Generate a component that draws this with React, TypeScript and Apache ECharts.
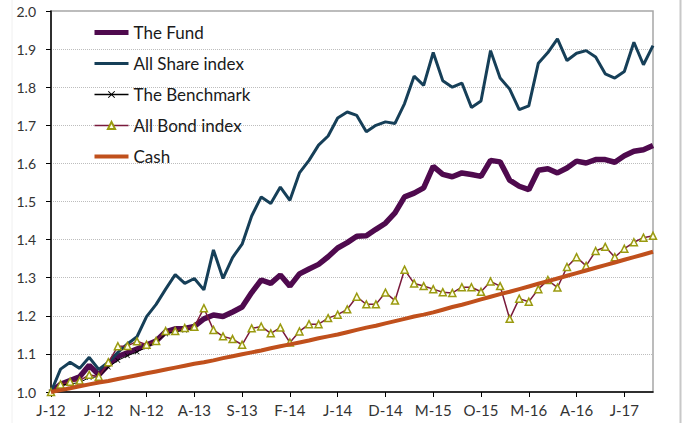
import React, { useEffect, useRef } from "react";
import * as echarts from "echarts";

const categories = [
  "Jan-12","Feb-12","Mar-12","Apr-12","May-12","Jun-12","Jul-12","Aug-12","Sep-12","Oct-12","Nov-12","Dec-12",
  "Jan-13","Feb-13","Mar-13","Apr-13","May-13","Jun-13","Jul-13","Aug-13","Sep-13","Oct-13","Nov-13","Dec-13",
  "Jan-14","Feb-14","Mar-14","Apr-14","May-14","Jun-14","Jul-14","Aug-14","Sep-14","Oct-14","Nov-14","Dec-14",
  "Jan-15","Feb-15","Mar-15","Apr-15","May-15","Jun-15","Jul-15","Aug-15","Sep-15","Oct-15","Nov-15","Dec-15",
  "Jan-16","Feb-16","Mar-16","Apr-16","May-16","Jun-16","Jul-16","Aug-16","Sep-16","Oct-16","Nov-16","Dec-16",
  "Jan-17","Feb-17","Mar-17","Apr-17",
];

const fund = [
  1.0, 1.02, 1.03, 1.04, 1.07, 1.045, 1.072, 1.093, 1.103, 1.113, 1.123, 1.134,
  1.158, 1.166, 1.167, 1.172, 1.192, 1.202, 1.198, 1.21, 1.223, 1.261, 1.294, 1.285,
  1.307, 1.278, 1.31, 1.323, 1.335, 1.355, 1.378, 1.392, 1.409, 1.41, 1.427, 1.443,
  1.47, 1.512, 1.522, 1.536, 1.592, 1.571, 1.565, 1.575, 1.571, 1.566, 1.608, 1.604,
  1.556, 1.54, 1.531, 1.582, 1.586, 1.575, 1.588, 1.606, 1.601, 1.61, 1.61, 1.603,
  1.62, 1.632, 1.636, 1.647,
];

const allShare = [
  1.0, 1.06, 1.078, 1.062, 1.091, 1.059, 1.078, 1.104, 1.126, 1.145, 1.198, 1.23,
  1.27, 1.308, 1.285, 1.298, 1.268, 1.373, 1.298, 1.353, 1.388, 1.462, 1.512, 1.495,
  1.538, 1.503, 1.575, 1.608, 1.648, 1.672, 1.719, 1.735, 1.726, 1.683, 1.7, 1.709,
  1.705, 1.757, 1.829, 1.805, 1.891, 1.817, 1.8, 1.811, 1.747, 1.764, 1.896, 1.824,
  1.795, 1.741, 1.751, 1.863, 1.891, 1.927, 1.87, 1.889, 1.896, 1.879, 1.835, 1.824,
  1.841, 1.918, 1.859, 1.909,
];

const benchmark = [
  1.0, 1.018, 1.021, 1.025, 1.038, 1.04, 1.065, 1.083, 1.095, 1.105, 1.118, 1.13,
  1.152, 1.158, 1.162,
];

const allBond = [
  1.0, 1.02, 1.027, 1.03, 1.045, 1.04, 1.078, 1.12, 1.121, 1.133, 1.124, 1.134,
  1.16, 1.16, 1.168, 1.171, 1.22, 1.163, 1.146, 1.139, 1.124, 1.167, 1.172, 1.154,
  1.169, 1.13, 1.159, 1.178, 1.178, 1.194, 1.203, 1.217, 1.25, 1.23, 1.23, 1.261,
  1.24, 1.321, 1.285, 1.278, 1.27, 1.262, 1.26, 1.275, 1.275, 1.263, 1.29, 1.278,
  1.192, 1.245, 1.237, 1.27, 1.294, 1.274, 1.328, 1.354, 1.331, 1.37, 1.381, 1.354,
  1.376, 1.393, 1.405, 1.41,
];

const cash = [
  1.0, 1.005, 1.01, 1.015, 1.02, 1.025, 1.029, 1.034, 1.039, 1.044, 1.049, 1.054,
  1.059, 1.064, 1.069, 1.074, 1.078, 1.083, 1.089, 1.094, 1.099, 1.104, 1.109, 1.115,
  1.12, 1.125, 1.13, 1.135, 1.141, 1.146, 1.151, 1.157, 1.163, 1.169, 1.174, 1.18,
  1.186, 1.192, 1.198, 1.203, 1.209, 1.216, 1.223, 1.229, 1.236, 1.243, 1.25, 1.257,
  1.263, 1.27, 1.277, 1.284, 1.291, 1.298, 1.305, 1.312, 1.319, 1.326, 1.333, 1.34,
  1.347, 1.354, 1.361, 1.368,
];

const FONT = "Lato, 'Noto Sans', sans-serif";
const CROSS = "path://M0,1 L1,0 L5,4 L9,0 L10,1 L6,5 L10,9 L9,10 L5,6 L1,10 L0,9 L4,5 Z";

const C_FUND = "#4F0A4E";
const C_SHARE = "#163F58";
const C_BOND = "#7A1A3C";
const C_CASH = "#C0501C";

export default function App() {
  const ref = useRef<HTMLDivElement>(null);
  useEffect(() => {
    if (!ref.current) return;
    const chart = echarts.init(ref.current, undefined, { renderer: "svg" });
    chart.setOption({
      animation: false,
      backgroundColor: "#ffffff",
      grid: {
        left: 51, right: 32, top: 11, bottom: 31,
        show: true, borderColor: "#A6A6A6", borderWidth: 1.5, backgroundColor: "transparent",
      },
      legend: {
        orient: "vertical",
        left: 92,
        top: 24,
        padding: 0,
        itemWidth: 34,
        itemHeight: 9,
        itemGap: 14,
        textStyle: { fontFamily: FONT, fontSize: 17, color: "#1a1a1a" },
        data: [
          { name: "The Fund", itemStyle: { opacity: 0 }, lineStyle: { width: 5, color: C_FUND } },
          { name: "All Share index", itemStyle: { opacity: 0 }, lineStyle: { width: 3, color: C_SHARE } },
          { name: "The Benchmark", lineStyle: { width: 1.5, color: "#000" } },
          { name: "All Bond index", lineStyle: { width: 1.5, color: C_BOND } },
          { name: "Cash", itemStyle: { opacity: 0 }, lineStyle: { width: 4, color: C_CASH } },
        ],
      },
      xAxis: {
        type: "category",
        data: categories,
        boundaryGap: false,
        axisLine: { lineStyle: { color: "#000", width: 1.5 } },
        axisTick: { interval: 4, length: 5, lineStyle: { color: "#000" } },
        axisLabel: {
          interval: 4,
          formatter: (v: string) => v.charAt(0) + v.slice(3),
          color: "#333",
          fontFamily: FONT,
          fontSize: 15,
          margin: 10,
        },
        splitLine: { show: false },
      },
      yAxis: {
        type: "value",
        min: 1,
        max: 2,
        interval: 0.1,
        axisLine: { show: true, lineStyle: { color: "#000", width: 1.5 } },
        axisTick: { show: true, length: 5, lineStyle: { color: "#000" } },
        axisLabel: {
          formatter: (v: number) => v.toFixed(1),
          color: "#333",
          fontFamily: FONT,
          fontSize: 14,
          margin: 15,
        },
        splitLine: { lineStyle: { type: "dotted", color: "#BDBDBD", width: 1 } },
      },
      graphic: [
        { type: "line", shape: { x1: 680.5, y1: 0, x2: 680.5, y2: 423 }, style: { stroke: "#C8C8C8", lineWidth: 2 } },
        { type: "line", shape: { x1: 12, y1: 0, x2: 12, y2: 423 }, style: { stroke: "#F0F0F0", lineWidth: 1 } },
      ],
      series: [
        {
          name: "The Fund", type: "line", data: fund, symbol: "none",
          lineStyle: { color: C_FUND, width: 5.5 }, itemStyle: { color: C_FUND }, z: 2,
        },
        {
          name: "All Share index", type: "line", data: allShare, symbol: "none",
          lineStyle: { color: C_SHARE, width: 3 }, itemStyle: { color: C_SHARE }, z: 3,
        },
        {
          name: "The Benchmark", type: "line", data: benchmark, symbol: CROSS, symbolSize: 5,
          showAllSymbol: true,
          lineStyle: { color: "#000", width: 1 }, itemStyle: { color: "#000" }, z: 4,
        },
        {
          name: "All Bond index", type: "line", data: allBond, symbol: "triangle", symbolSize: 7,
          showAllSymbol: true,
          lineStyle: { color: C_BOND, width: 1.5 },
          itemStyle: { color: "#FFFFE8", borderColor: "#9A9A10", borderWidth: 1.5 }, z: 5,
        },
        {
          name: "Cash", type: "line", data: cash, symbol: "none",
          lineStyle: { color: C_CASH, width: 4 }, itemStyle: { color: C_CASH }, z: 6,
        },
      ],
    });
    return () => chart.dispose();
  }, []);
  return (
    <div
      ref={ref}
      style={{ position: "fixed", left: 0, top: 0, width: 685, height: 423, background: "#fff" }}
    />
  );
}
